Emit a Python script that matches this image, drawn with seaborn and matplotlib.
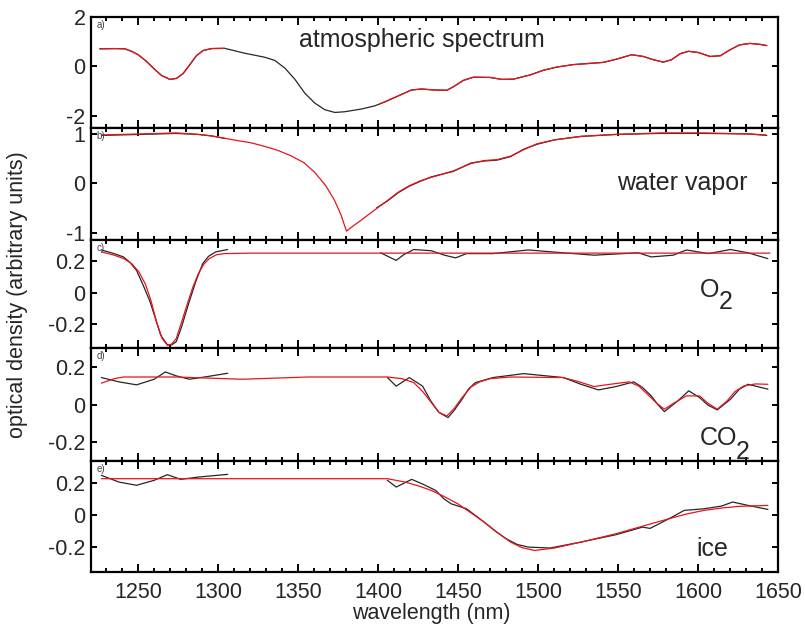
import numpy as np
import pandas as pd
import matplotlib
matplotlib.use("Agg")
import matplotlib.pyplot as plt
import seaborn as sns
from matplotlib.ticker import MultipleLocator, FixedLocator, FixedFormatter

sns.set_theme(style="ticks")
plt.rcParams["font.family"] = ["Liberation Sans", "DejaVu Sans"]
plt.rcParams["axes.unicode_minus"] = False

# ---------------- data ----------------
# a) atmospheric spectrum (measured, full range)
a_meas_wl = [1226, 1235.4, 1241.7, 1245.8, 1250, 1255.2, 1260.4, 1264.6, 1269.8, 1273.9, 1278.1, 1282.3,
             1286.5, 1290.6, 1295.8, 1304, 1316.7, 1329, 1335.4, 1341.7, 1348, 1354.2, 1360.4, 1366.7,
             1373, 1379.2, 1389.6, 1398, 1404.2, 1412.5, 1420.8, 1427, 1435.4, 1443, 1447, 1453.3,
             1459.6, 1470, 1477.3, 1484.6, 1495, 1503.3, 1511.7, 1522, 1532.5, 1540.8, 1549, 1558.5,
             1565.8, 1572, 1578.3, 1583.5, 1588.8, 1594, 1600.2, 1607.5, 1614, 1620, 1626, 1632.5,
             1638.8, 1643]
a_meas = [0.71, 0.72, 0.71, 0.61, 0.47, 0.2, -0.13, -0.37, -0.53, -0.49, -0.29, 0.07,
          0.44, 0.64, 0.72, 0.73, 0.53, 0.37, 0.24, -0.07, -0.53, -1.09, -1.49, -1.76,
          -1.87, -1.84, -1.73, -1.6, -1.44, -1.2, -0.96, -0.92, -0.96, -0.97, -0.83, -0.57,
          -0.44, -0.45, -0.53, -0.52, -0.35, -0.16, -0.03, 0.07, 0.12, 0.16, 0.29, 0.47,
          0.4, 0.27, 0.17, 0.27, 0.51, 0.61, 0.56, 0.4, 0.43, 0.67, 0.87, 0.93,
          0.89, 0.84]
# a) fit, two segments
a_fit1_wl = [1226, 1235.4, 1241.7, 1245.8, 1250, 1255.2, 1260.4, 1264.6, 1269.8, 1273.9, 1278.1,
             1282.3, 1286.5, 1290.6, 1295.8, 1304]
a_fit1 = [0.71, 0.72, 0.71, 0.61, 0.47, 0.2, -0.13, -0.37, -0.53, -0.49, -0.29,
          0.07, 0.44, 0.64, 0.72, 0.73]
a_fit2_wl = [1401, 1404.2, 1412.5, 1420.8, 1427, 1435.4, 1443, 1447, 1453.3, 1459.6, 1470, 1477.3,
             1484.6, 1495, 1503.3, 1511.7, 1522, 1532.5, 1540.8, 1549, 1558.5, 1565.8, 1572, 1578.3,
             1583.5, 1588.8, 1594, 1600.2, 1607.5, 1614, 1620, 1626, 1632.5, 1638.8, 1643]
a_fit2 = [-1.52, -1.44, -1.2, -0.96, -0.92, -0.96, -0.97, -0.83, -0.57, -0.44, -0.45, -0.53,
          -0.52, -0.35, -0.16, -0.03, 0.07, 0.12, 0.16, 0.29, 0.47, 0.4, 0.27, 0.17,
          0.27, 0.51, 0.61, 0.56, 0.4, 0.43, 0.67, 0.87, 0.93, 0.89, 0.84]

# b) water vapor
b_fit_wl = [1227, 1251.8, 1273.8, 1287.5, 1295.8, 1309.5, 1320.5, 1328.8, 1337, 1345.3, 1353.5, 1360.4,
            1367.3, 1372.8, 1376.9, 1380.2, 1383.8, 1389.3, 1397.5, 1405.8, 1412.6, 1419.5, 1426.4,
            1433.3, 1447, 1458, 1466.3, 1474.5, 1482.8, 1491, 1499.3, 1510.3, 1526.8, 1548.8,
            1576.3, 1603.8, 1631.3, 1642.3]
b_fit = [0.98, 1.0, 1.02, 0.99, 0.96, 0.88, 0.82, 0.75, 0.67, 0.56, 0.42, 0.22,
         -0.05, -0.35, -0.65, -0.97, -0.88, -0.75, -0.55, -0.35, -0.18, -0.05, 0.05,
         0.12, 0.25, 0.4, 0.46, 0.48, 0.55, 0.68, 0.8, 0.88, 0.95, 0.99,
         1.02, 1.02, 1.0, 0.98]
b_meas1_wl = [1227, 1251.8, 1273.8, 1287.5, 1295.8, 1304]
b_meas1 = [0.97, 0.99, 1.01, 0.99, 0.96, 0.91]
b_meas2_wl = [1399, 1405.8, 1412.6, 1419.5, 1426.4, 1433.3, 1447, 1458, 1466.3, 1474.5, 1482.8, 1491,
              1499.3, 1510.3, 1526.8, 1548.8, 1576.3, 1603.8, 1631.3, 1643]
b_meas2 = [-0.5, -0.36, -0.19, -0.06, 0.04, 0.13, 0.24, 0.41, 0.45, 0.47, 0.54, 0.69,
           0.79, 0.88, 0.95, 0.99, 1.01, 1.01, 1.0, 0.97]

# c) O2
c_fit_wl = [1227, 1235, 1241, 1246, 1250.5, 1254.5, 1258, 1261.4, 1265, 1268.3, 1271, 1273.8, 1277,
            1280.6, 1284, 1287.5, 1291, 1294.4, 1299, 1304, 1320, 1645]
c_fit = [0.258, 0.237, 0.215, 0.183, 0.13, 0.054, -0.05, -0.183, -0.29, -0.333, -0.325, -0.29, -0.19,
         -0.075, 0.03, 0.118, 0.18, 0.215, 0.24, 0.247, 0.25, 0.25]
c_meas1_wl = [1227, 1234, 1240.8, 1245, 1249, 1253, 1257.3, 1261, 1264.1, 1268.3, 1271, 1273.8, 1277,
              1282, 1286, 1290.3, 1294, 1298.5, 1306]
c_meas1 = [0.27, 0.25, 0.226, 0.19, 0.14, 0.05, -0.054, -0.17, -0.27, -0.33, -0.33, -0.31, -0.22,
           -0.054, 0.07, 0.183, 0.23, 0.258, 0.273]
c_meas2_wl = [1401.6, 1406, 1411.3, 1416, 1422.3, 1433.3, 1441.5, 1448.4, 1455.3, 1471.8, 1493.8,
              1515.8, 1535, 1562.5, 1570.8, 1584.5, 1592.8, 1606.5, 1620.3, 1631.3, 1643.7]
c_meas2 = [0.252, 0.23, 0.204, 0.24, 0.273, 0.265, 0.237, 0.22, 0.247, 0.247, 0.27,
           0.252, 0.237, 0.252, 0.226, 0.237, 0.27, 0.247, 0.273, 0.252, 0.215]

# d) CO2
d_fit_wl = [1227, 1235, 1240.8, 1273.8, 1315, 1356.3, 1405.8, 1415, 1422.3, 1428, 1433.3, 1438, 1443,
            1447.5, 1452.5, 1458, 1463.5, 1470, 1482.8, 1515.8, 1525, 1535, 1545, 1557, 1563, 1568,
            1574, 1579, 1585, 1592.8, 1601, 1606, 1612, 1618, 1623, 1628.5, 1636, 1643.7]
d_fit = [0.116, 0.14, 0.149, 0.149, 0.137, 0.149, 0.149, 0.14, 0.119, 0.07, 0.012, -0.04, -0.059,
         -0.02, 0.039, 0.095, 0.123, 0.14, 0.149, 0.146, 0.125, 0.098, 0.11, 0.123, 0.1, 0.06,
         0.01, -0.023, 0.01, 0.048, 0.048, 0.01, -0.023, 0.02, 0.07, 0.101, 0.112, 0.11]
d_meas1_wl = [1227, 1238, 1249, 1260, 1267, 1273.8, 1282, 1293, 1306]
d_meas1 = [0.146, 0.123, 0.107, 0.137, 0.176, 0.155, 0.137, 0.151, 0.169]
d_meas2_wl = [1405.8, 1411.3, 1419.5, 1427.8, 1433, 1438, 1443.7, 1447.5, 1452.5, 1456.5, 1460.8,
              1471.8, 1491, 1515.8, 1526.8, 1537.8, 1548.8, 1559.8, 1565, 1570.8, 1575, 1579,
              1587.3, 1594.2, 1601, 1606, 1612, 1620.3, 1626, 1631.3, 1643.7]
d_meas2 = [0.146, 0.10, 0.146, 0.10, 0.02, -0.04, -0.068, -0.03, 0.03, 0.085, 0.119,
           0.146, 0.167, 0.146, 0.11, 0.08, 0.098, 0.123, 0.095, 0.048, 0.0, -0.036,
           0.021, 0.075, 0.039, 0.0, -0.027, 0.03, 0.085, 0.11, 0.084]

# e) ice
e_fit_wl = [1227, 1405.8, 1416.8, 1425, 1433.3, 1441.5, 1449.8, 1458, 1466.3, 1474.5, 1482.8, 1490,
            1497.9, 1510.3, 1530, 1548.8, 1565, 1581.8, 1593, 1603.8, 1615, 1625.8, 1643.7]
e_fit = [0.224, 0.224, 0.203, 0.18, 0.151, 0.112, 0.068, 0.012, -0.046, -0.11, -0.17, -0.205,
         -0.222, -0.207, -0.163, -0.118, -0.072, -0.025, 0.005, 0.027, 0.042, 0.052, 0.058]
e_meas1_wl = [1227, 1238, 1249, 1260, 1268.3, 1276.5, 1287.5, 1306]
e_meas1 = [0.245, 0.203, 0.183, 0.214, 0.249, 0.22, 0.234, 0.251]
e_meas2_wl = [1405.8, 1411.3, 1421, 1428, 1436, 1441, 1445.6, 1455.3, 1466.3, 1473, 1480, 1487,
              1493.8, 1507.5, 1526.8, 1548.8, 1565.3, 1570, 1581.8, 1591.4, 1603.8, 1614.8, 1621.6,
              1631.3, 1643.7]
e_meas2 = [0.214, 0.172, 0.22, 0.19, 0.151, 0.1, 0.068, 0.037, -0.046, -0.1, -0.149, -0.185,
           -0.201, -0.207, -0.17, -0.124, -0.077, -0.085, -0.025, 0.027, 0.037, 0.054, 0.079,
           0.058, 0.033]

panel_letters = ["a)", "b)", "c)", "d)", "e)"]
x_ticks = [1250, 1300, 1350, 1400, 1450, 1500, 1550, 1600, 1650]
x_ticklabels = ["1250", "1300", "1350", "1400", "1450", "1500", "1550", "1600", "1650"]
y_ticks = [[-2, 0, 2], [-1, 0, 1], [-0.2, 0, 0.2], [-0.2, 0, 0.2], [-0.2, 0, 0.2]]
y_ticklabels = [["-2", "0", "2"], ["-1", "0", "1"], ["-0.2", "0", "0.2"],
                ["-0.2", "0", "0.2"], ["-0.2", "0", "0.2"]]
y_limits = [(-2.5, 2.0), (-1.15, 1.12), (-0.35, 0.333), (-0.30, 0.304), (-0.356, 0.334)]


def segments(*pairs):
    frames = []
    for i, (wl, od) in enumerate(pairs):
        frames.append(pd.DataFrame({"wl": wl, "od": od, "seg": i}))
    return pd.concat(frames, ignore_index=True)


meas = [
    segments((a_meas_wl, a_meas)),
    segments((b_meas1_wl, b_meas1), (b_meas2_wl, b_meas2)),
    segments((c_meas1_wl, c_meas1), (c_meas2_wl, c_meas2)),
    segments((d_meas1_wl, d_meas1), (d_meas2_wl, d_meas2)),
    segments((e_meas1_wl, e_meas1), (e_meas2_wl, e_meas2)),
]
fits = [
    segments((a_fit1_wl, a_fit1), (a_fit2_wl, a_fit2)),
    segments((b_fit_wl, b_fit)),
    segments((c_fit_wl, c_fit)),
    segments((d_fit_wl, d_fit)),
    segments((e_fit_wl, e_fit)),
]

BLACK = "#262626"
RED = "#e8141c"

fig = plt.figure(figsize=(8.05, 6.3), dpi=100)
gs = fig.add_gridspec(5, 1, left=91 / 805, right=778 / 805, top=1 - 17 / 630, bottom=1 - 572 / 630,
                      hspace=0, height_ratios=[111, 112, 108, 113, 111])
axes = [fig.add_subplot(gs[i]) for i in range(5)]

for i, ax in enumerate(axes):
    sns.lineplot(data=meas[i], x="wl", y="od", units="seg", estimator=None, sort=False,
                 color=BLACK, lw=0.9, ax=ax, legend=False)
    sns.lineplot(data=fits[i], x="wl", y="od", units="seg", estimator=None, sort=False,
                 color=RED, lw=0.9, ax=ax, legend=False)
    for ln in ax.get_lines():
        ln.set_solid_joinstyle("round")
    ax.set_xlim(1220.5, 1650)
    ax.set_ylim(*y_limits[i])
    ax.set_xlabel("")
    ax.set_ylabel("")
    ax.xaxis.set_major_locator(FixedLocator(x_ticks))
    ax.xaxis.set_minor_locator(MultipleLocator(10))
    ax.yaxis.set_major_locator(FixedLocator(y_ticks[i]))
    ax.yaxis.set_major_formatter(FixedFormatter(y_ticklabels[i]))
    ax.tick_params(axis="x", which="both", direction="in", top=True, bottom=True,
                   width=1.4, color="black", labelbottom=(i == 4), labelsize=15.5, pad=7)
    ax.tick_params(axis="x", which="major", length=5.5)
    ax.tick_params(axis="x", which="minor", length=3.2)
    ax.tick_params(axis="y", which="major", direction="in", left=True, right=True,
                   length=4.5, width=1.4, color="black", labelsize=15.5, pad=4)
    if i == 4:
        ax.xaxis.set_major_formatter(FixedFormatter(x_ticklabels))
    for sp in ax.spines.values():
        sp.set_visible(True)
        sp.set_linewidth(1.6)
        sp.set_color("black")
    ax.set_facecolor("white")
    ax.text(0.008, 0.93, panel_letters[i], transform=ax.transAxes, fontsize=7,
            color="#444444", ha="left", va="center")

axes[0].text(1427.5, 1.08, "atmospheric spectrum", fontsize=18, ha="center", va="center")
axes[1].text(1590, 0.0, "water vapor", fontsize=18, ha="center", va="center")
axes[2].text(1607.5, 0.017, "O", fontsize=18, ha="center", va="center")
axes[2].text(1617, -0.059, "2", fontsize=18, ha="center", va="center")
axes[3].text(1612.5, -0.179, "CO", fontsize=18, ha="center", va="center")
axes[3].text(1628, -0.251, "2", fontsize=18, ha="center", va="center")
axes[4].text(1609, -0.2125, "ice", fontsize=18, ha="center", va="center")

fig.text(431 / 805, 1 - 613 / 630, "wavelength (nm)", fontsize=15.5, ha="center", va="center")
fig.text(18 / 805, 1 - 295 / 630, "optical density (arbitrary units)", fontsize=15.5,
         ha="center", va="center", rotation=90)

fig.savefig("out.png", dpi=100, facecolor="white")
